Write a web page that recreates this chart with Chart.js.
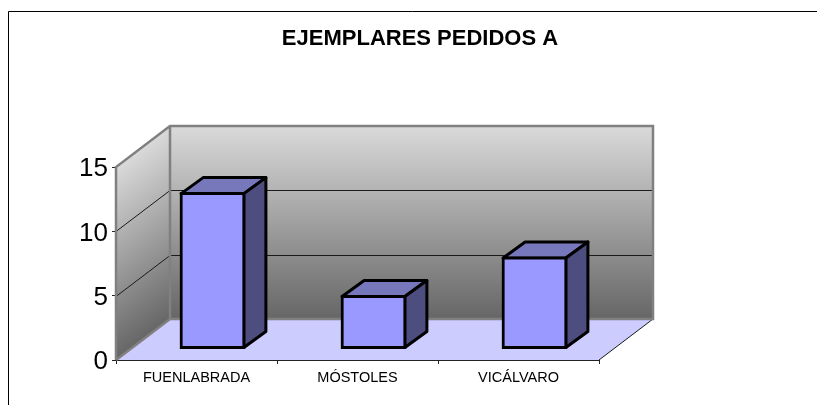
<!DOCTYPE html>
<html>
<head>
<meta charset="utf-8">
<style>
  html, body { margin: 0; padding: 0; background: #fff; }
  canvas { display: block; }
</style>
<script src="https://cdn.jsdelivr.net/npm/chart.js@4"></script>
</head>
<body>
<canvas id="chart" width="817" height="405"></canvas>
<script>
const titleText = 'EJEMPLARES PEDIDOS A';
const categories = ['FUENLABRADA', 'MÓSTOLES', 'VICÁLVARO'];
const pedidos = [12, 4, 7];
const yTicks = [0, 5, 10, 15];

// depth of the box and of each column, in pixels
const DEPTH_X = 54, DEPTH_Y = 41;
const BAR_SHIFT_X = 16, BAR_SHIFT_Y = 12;
const BAR_DEPTH_X = 22, BAR_DEPTH_Y = 16;
const FONT = '"Liberation Sans", Arial, sans-serif';

function poly(ctx, pts, fill, stroke, width) {
    ctx.beginPath();
    pts.forEach((p, i) => i ? ctx.lineTo(p[0], p[1]) : ctx.moveTo(p[0], p[1]));
    ctx.closePath();
    if (fill) { ctx.fillStyle = fill; ctx.fill(); }
    if (stroke) { ctx.strokeStyle = stroke; ctx.lineWidth = width; ctx.lineJoin = 'round'; ctx.stroke(); }
}

function wallGradient(ctx, top, bottom) {
    const g = ctx.createLinearGradient(0, top, 0, bottom);
    g.addColorStop(0, '#dadada');
    g.addColorStop(1, '#666666');
    return g;
}

// back wall, side wall and floor
const box3d = {
    id: 'box3d',
    beforeDatasetsDraw(chart) {
        const ctx = chart.ctx, x = chart.scales.x, y = chart.scales.y;
        const l = x.left, r = x.right, t = y.getPixelForValue(15), b = y.getPixelForValue(0);

        ctx.save();
        // outer frame of the chart object
        ctx.strokeStyle = '#000';
        ctx.lineWidth = 1;
        ctx.beginPath();
        ctx.moveTo(817, 11.5);
        ctx.lineTo(8.5, 11.5);
        ctx.lineTo(8.5, 405);
        ctx.stroke();

        // floor
        poly(ctx, [[l, b], [r, b], [r + DEPTH_X, b - DEPTH_Y], [l + DEPTH_X, b - DEPTH_Y]], '#ccccff');
        ctx.strokeStyle = '#1a1a1a';
        ctx.lineWidth = 1;
        ctx.beginPath();
        ctx.moveTo(r, b);
        ctx.lineTo(r + DEPTH_X, b - DEPTH_Y);
        ctx.stroke();

        // back wall
        poly(ctx, [[l + DEPTH_X, t - DEPTH_Y], [r + DEPTH_X, t - DEPTH_Y], [r + DEPTH_X, b - DEPTH_Y], [l + DEPTH_X, b - DEPTH_Y]],
            wallGradient(ctx, t - DEPTH_Y, b - DEPTH_Y));

        // side wall, gradient sheared along the depth
        ctx.save();
        ctx.beginPath();
        ctx.moveTo(l, t); ctx.lineTo(l + DEPTH_X, t - DEPTH_Y); ctx.lineTo(l + DEPTH_X, b - DEPTH_Y); ctx.lineTo(l, b);
        ctx.closePath();
        ctx.clip();
        ctx.transform(1, -DEPTH_Y / DEPTH_X, 0, 1, l, t);
        ctx.fillStyle = wallGradient(ctx, 0, b - t);
        ctx.fillRect(0, -10, DEPTH_X, b - t + 20);
        ctx.restore();

        // grid lines on both walls
        ctx.strokeStyle = '#1a1a1a';
        ctx.lineWidth = 1;
        [5, 10].forEach(v => {
            const py = Math.round(y.getPixelForValue(v)) + 0.5;
            ctx.beginPath();
            ctx.moveTo(l, py);
            ctx.lineTo(l + DEPTH_X, py - DEPTH_Y);
            ctx.lineTo(r + DEPTH_X, py - DEPTH_Y);
            ctx.stroke();
        });

        // wall outlines
        ctx.strokeStyle = '#808080';
        ctx.lineWidth = 2.5;
        ctx.lineJoin = 'miter';
        ctx.beginPath();
        ctx.moveTo(l, b);
        ctx.lineTo(l, t);
        ctx.lineTo(l + DEPTH_X, t - DEPTH_Y);
        ctx.lineTo(r + DEPTH_X, t - DEPTH_Y);
        ctx.lineTo(r + DEPTH_X, b - DEPTH_Y);
        ctx.lineTo(l + DEPTH_X, b - DEPTH_Y);
        ctx.lineTo(l, b);
        ctx.moveTo(l + DEPTH_X, t - DEPTH_Y);
        ctx.lineTo(l + DEPTH_X, b - DEPTH_Y);
        ctx.stroke();
        ctx.restore();
    },
    // columns sit part way into the depth of the box
    beforeDatasetDraw(chart) {
        const ctx = chart.ctx;
        ctx.save();
        ctx.translate(BAR_SHIFT_X, -BAR_SHIFT_Y);
        chart.getDatasetMeta(0).data.forEach(bar => {
            const p = bar.getProps(['x', 'y', 'base', 'width'], true);
            const l = p.x - p.width / 2, r = p.x + p.width / 2;
            poly(ctx, [[l, p.y], [r, p.y], [r + BAR_DEPTH_X, p.y - BAR_DEPTH_Y], [l + BAR_DEPTH_X, p.y - BAR_DEPTH_Y]], '#7777bb', '#000', 3);
            poly(ctx, [[r, p.y], [r + BAR_DEPTH_X, p.y - BAR_DEPTH_Y], [r + BAR_DEPTH_X, p.base - BAR_DEPTH_Y], [r, p.base]], '#4d4d80', '#000', 3);
        });
    },
    afterDatasetDraw(chart) {
        chart.ctx.restore();
    }
};

new Chart(document.getElementById('chart'), {
    type: 'bar',
    data: {
        labels: categories,
        datasets: [{
            label: 'Ejemplares',
            data: pedidos,
            backgroundColor: '#9999ff',
            borderColor: '#000',
            borderWidth: 3,
            borderSkipped: false,
            inflateAmount: 1.5,
            barPercentage: 1,
            categoryPercentage: 0.39,
            clip: false
        }]
    },
    options: {
        responsive: false,
        animation: false,
        layout: { padding: { left: 23, right: 0, top: 0, bottom: 0 } },
        plugins: {
            legend: { display: false },
            tooltip: { enabled: false },
            title: {
                display: true,
                text: titleText,
                color: '#000',
                font: { family: FONT, size: 22, weight: 'bold' },
                padding: { top: 26, bottom: 114.6 }
            }
        },
        scales: {
            x: {
                grid: { display: true, drawOnChartArea: false, drawTicks: true, tickLength: 4, color: '#222' },
                border: { display: true, color: '#222', width: 1 },
                afterFit(axis) { axis.height = 45; },
                ticks: { color: '#000', font: { family: FONT, size: 14.5 }, padding: 5 }
            },
            y: {
                min: 0,
                max: 15,
                afterBuildTicks(axis) { axis.ticks = yTicks.map(v => ({ value: v })); },
                afterFit(axis) { axis.width = 93; },
                grid: { drawOnChartArea: false, drawTicks: true, tickLength: 4, color: '#222' },
                border: { display: false },
                ticks: { color: '#000', font: { family: FONT, size: 26 }, padding: 4, labelOffset: 2 }
            },
            // empty axis on the right keeps the plot clear of the right margin
            y1: {
                position: 'right',
                grid: { display: false },
                border: { display: false },
                ticks: { display: false },
                afterFit(axis) { axis.width = 218; }
            }
        }
    },
    plugins: [box3d]
});
</script>
</body>
</html>
